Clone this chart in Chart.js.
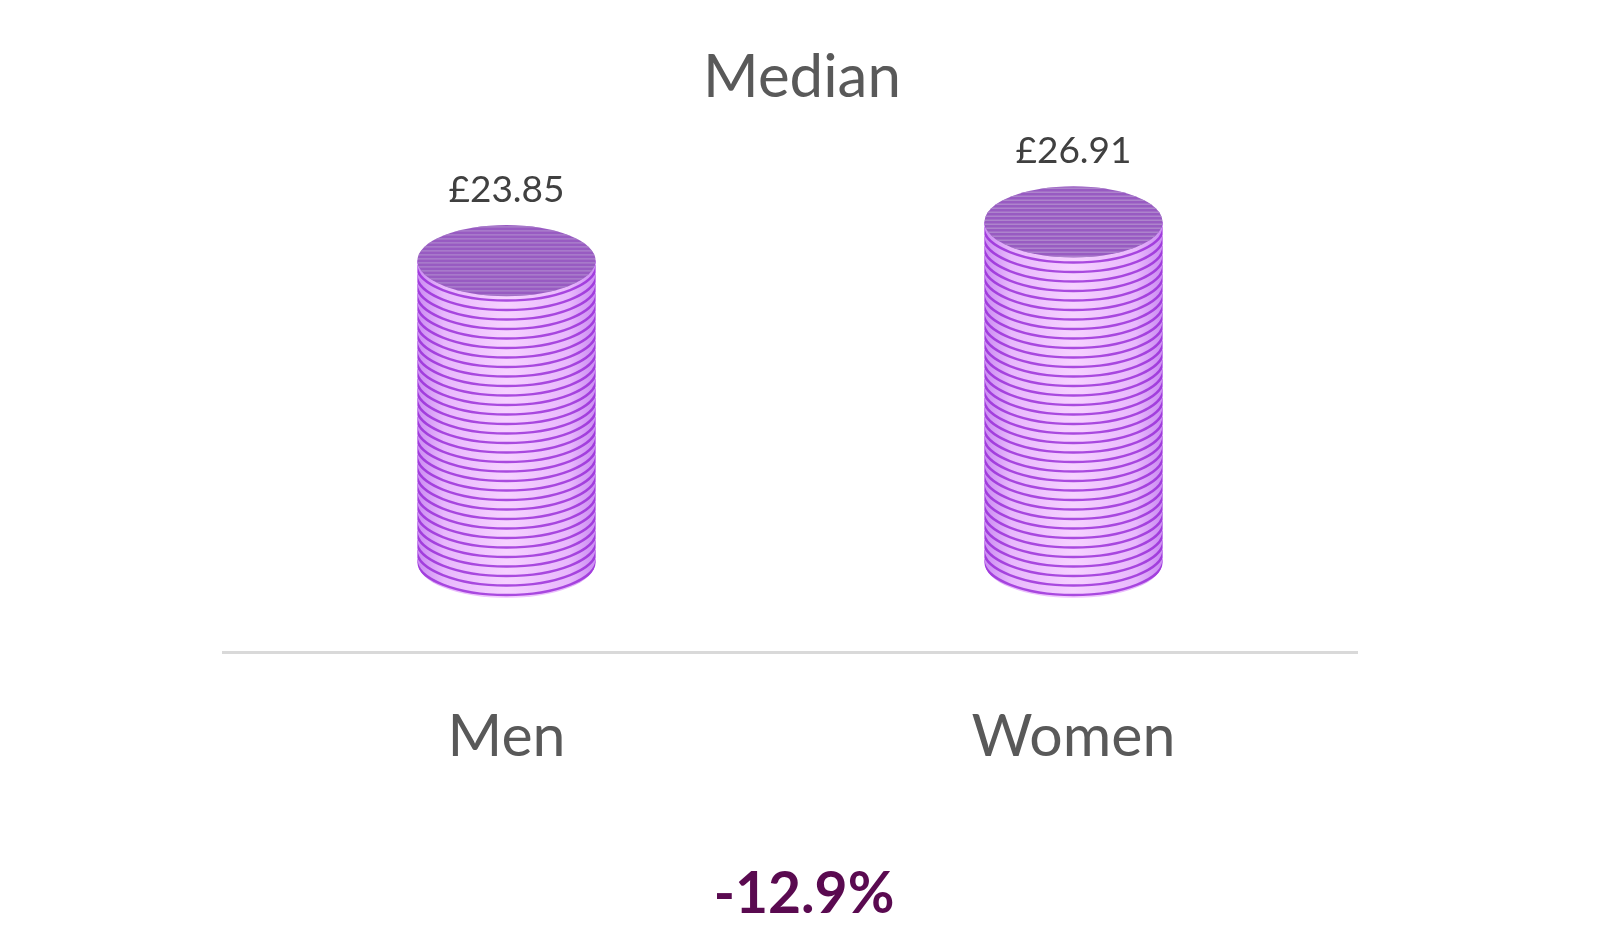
<!DOCTYPE html>
<html>
<head>
<meta charset="utf-8">
<script src="https://cdn.jsdelivr.net/npm/chart.js@4/dist/chart.umd.min.js"></script>
<style>
  html, body { margin: 0; padding: 0; background: #ffffff; }
  #wrap { width: 1600px; height: 928px; }
</style>
</head>
<body>
<div id="wrap"><canvas id="medianChart" width="1600" height="928"></canvas></div>
<script>
const categories = ['Men', 'Women'];
const medianPay = [23.85, 26.91];
const chartTitle = 'Median';
const gapText = '-12.9%';

const FONT = 'Lato, "Open Sans", sans-serif';

// draws each bar as a striped 3d cylinder, using the bar element geometry
const cylinderPlugin = {
    id: 'cylinders',
    afterDatasetsDraw(chart) {
        const ctx = chart.ctx;
        const meta = chart.getDatasetMeta(0);
        meta.data.forEach(function (bar, i) {
            const cx = bar.x;
            const rx = bar.width / 2;
            const ry = rx * 0.4;
            const yTop = bar.y;
            const yBot = bar.base;

            ctx.save();
            // side body
            ctx.beginPath();
            ctx.moveTo(cx - rx, yTop);
            ctx.lineTo(cx - rx, yBot);
            ctx.ellipse(cx, yBot, rx, ry, 0, Math.PI, 0, true);
            ctx.lineTo(cx + rx, yTop);
            ctx.closePath();
            let side = ctx.createLinearGradient(cx - rx, 0, cx + rx, 0);
            side.addColorStop(0, '#cb8cf2');
            side.addColorStop(0.15, '#e8b8fc');
            side.addColorStop(0.5, '#f6d2ff');
            side.addColorStop(0.85, '#e8b8fc');
            side.addColorStop(1, '#cb8cf2');
            ctx.fillStyle = side;
            ctx.fill();
            ctx.clip();

            // ring stripes
            ctx.lineWidth = 2.4;
            ctx.strokeStyle = 'rgba(150, 40, 215, 0.8)';
            for (let y = yBot - 3; y > yTop - ry; y -= 9.5) {
                ctx.beginPath();
                ctx.ellipse(cx, y, rx + 1, ry, 0, Math.PI, 0, true);
                ctx.stroke();
            }
            ctx.restore();

            // top cap
            ctx.save();
            ctx.beginPath();
            ctx.ellipse(cx, yTop, rx, ry, 0, 0, Math.PI * 2);
            ctx.fillStyle = '#985bc2';
            ctx.fill();
            ctx.clip();
            ctx.strokeStyle = '#ad84cc';
            ctx.lineWidth = 1.3;
            for (let y = yTop - ry + 2; y < yTop + ry; y += 4) {
                ctx.beginPath();
                ctx.moveTo(cx - rx, y);
                ctx.lineTo(cx + rx, y);
                ctx.stroke();
            }
            ctx.restore();

            // value label
            ctx.save();
            ctx.fillStyle = '#404040';
            ctx.font = '37px ' + FONT;
            ctx.textAlign = 'center';
            ctx.textBaseline = 'middle';
            ctx.fillText('£' + medianPay[i].toFixed(2), cx, yTop - ry - 35);
            ctx.restore();
        });
    },
    afterDraw(chart) {
        // title and gap figure are centred on the whole canvas
        const ctx = chart.ctx;
        ctx.save();
        ctx.textAlign = 'center';
        ctx.textBaseline = 'middle';
        ctx.fillStyle = '#595959';
        ctx.font = '60px ' + FONT;
        ctx.fillText(chartTitle, chart.width / 2 + 2, 78);
        ctx.fillStyle = '#5a0a50';
        ctx.font = 'bold 57px ' + FONT;
        ctx.fillText(gapText, chart.width / 2 + 4, 895);
        ctx.restore();
    }
};

new Chart(document.getElementById('medianChart').getContext('2d'), {
    type: 'bar',
    data: {
        labels: categories,
        datasets: [{
            label: chartTitle,
            data: medianPay,
            backgroundColor: 'rgba(0,0,0,0)',
            borderWidth: 0,
            categoryPercentage: 1,
            barPercentage: 0.314
        }]
    },
    options: {
        responsive: false,
        animation: false,
        layout: {
            padding: { left: 223, right: 243, top: 122, bottom: 107 }
        },
        plugins: {
            legend: { display: false },
            tooltip: { enabled: false },
            title: { display: false }
        },
        scales: {
            x: {
                grid: { display: false, drawTicks: false },
                border: { display: true, color: '#d9d9d9', width: 3 },
                ticks: {
                    color: '#595959',
                    padding: 49,
                    font: { family: FONT, size: 59, lineHeight: 1.2 }
                }
            },
            y: {
                display: false,
                min: -7.1,
                max: 34.8
            }
        }
    },
    plugins: [cylinderPlugin]
});
</script>
</body>
</html>
